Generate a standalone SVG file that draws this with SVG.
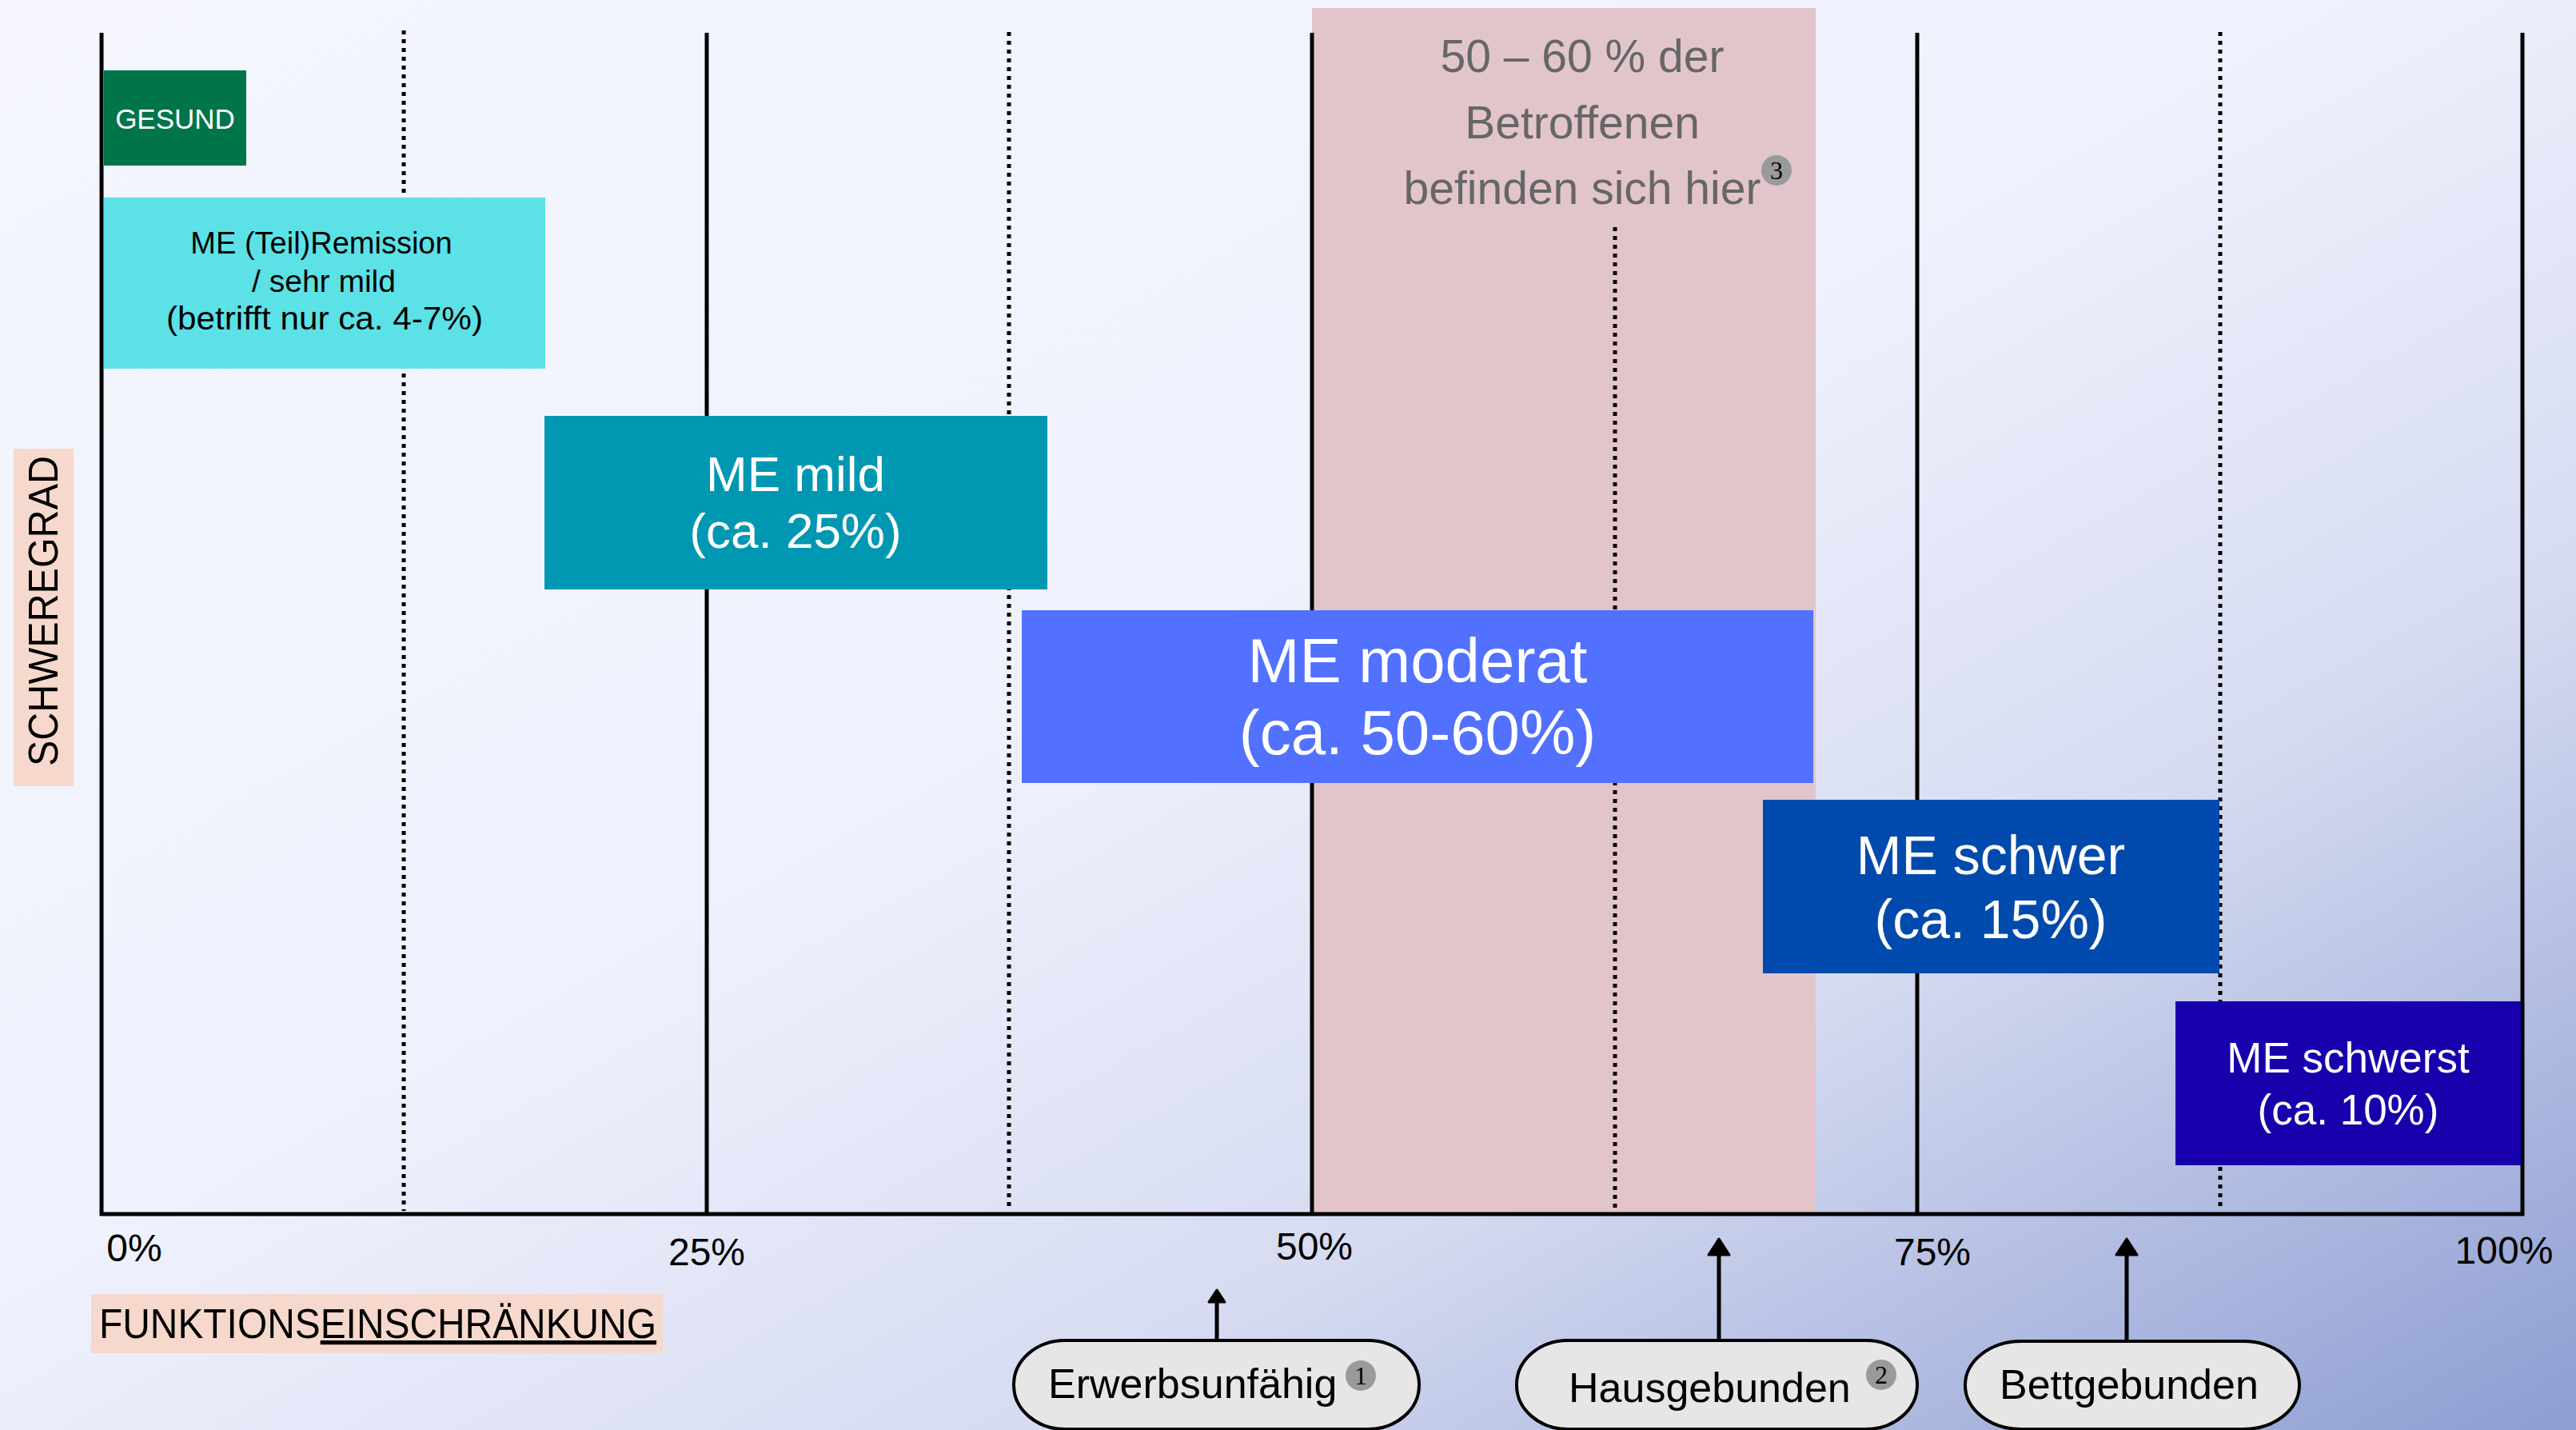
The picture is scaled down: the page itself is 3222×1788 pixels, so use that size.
<svg xmlns="http://www.w3.org/2000/svg" width="3222" height="1788" viewBox="0 0 3222 1788">
<defs>
<linearGradient id="bg" x1="0" y1="0" x2="1" y2="1">
<stop offset="0" stop-color="#f5f6fe"/>
<stop offset="0.45" stop-color="#eff2fd"/>
<stop offset="0.7" stop-color="#d6dbf1"/>
<stop offset="1" stop-color="#8d9dd2"/>
</linearGradient>
<marker id="headL" markerUnits="userSpaceOnUse" markerWidth="40" markerHeight="40" refX="0" refY="0" orient="auto" overflow="visible">
<path d="M0,-13 L20,0 L0,13 Z" fill="#000" stroke="#000" stroke-width="3" stroke-linejoin="round"/>
</marker>
<marker id="headS" markerUnits="userSpaceOnUse" markerWidth="40" markerHeight="40" refX="0" refY="0" orient="auto" overflow="visible">
<path d="M0,-10 L15,0 L0,10 Z" fill="#000" stroke="#000" stroke-width="3" stroke-linejoin="round"/>
</marker>
</defs>
<style>
text{font-family:"Liberation Sans",Arial,sans-serif}
.solid{stroke:#000;stroke-width:5;fill:none}
.dot{stroke:#000;stroke-width:5;stroke-dasharray:5 6;fill:none}
.w{fill:#fff;text-anchor:middle}
.k{fill:#000}
.pct{font-size:48px;fill:#000;text-anchor:middle}
.pill{fill:#e6e6e6;stroke:#000;stroke-width:4}
.pt{font-size:52px;fill:#000}
.badge{fill:#9a9a9a}
.bn{font-family:"Liberation Serif","DejaVu Serif",serif;font-size:32px;fill:#000;text-anchor:middle}
.arr{stroke:#000;stroke-width:5;fill:none}
.lab{fill:#f6d9cc}
.grey{font-size:57px;fill:#666;text-anchor:middle}
</style>
<rect width="3222" height="1788" fill="url(#bg)"/>
<rect id="highlight" x="1641" y="10" width="630" height="1506" fill="#e2c5cb"/>
<g id="grid">
<line class="dot" x1="505" y1="38" x2="505" y2="1514"/>
<line class="dot" x1="1262" y1="40" x2="1262" y2="1514"/>
<line class="dot" x1="2020" y1="284" x2="2020" y2="1514"/>
<line class="dot" x1="2777" y1="40" x2="2777" y2="1514"/>
<line class="solid" x1="884" y1="41" x2="884" y2="1518"/>
<line class="solid" x1="1641" y1="41" x2="1641" y2="1518"/>
<line class="solid" x1="2398" y1="41" x2="2398" y2="1518"/>
<line class="solid" x1="3155" y1="41" x2="3155" y2="1520"/>
<line class="solid" x1="127" y1="41" x2="127" y2="1520"/>
<line class="solid" x1="125" y1="1518" x2="3157" y2="1518"/>
</g>
<g id="pct-labels">
<text class="pct" x="168" y="1577">0%</text>
<text class="pct" x="884" y="1582">25%</text>
<text class="pct" x="1644" y="1575">50%</text>
<text class="pct" x="2417" y="1582">75%</text>
<text class="pct" x="3132" y="1580">100%</text>
</g>
<g id="highlight-text">
<text class="grey" x="1979" y="90">50 – 60 % der</text>
<text class="grey" x="1979" y="173">Betroffenen</text>
<text class="grey" x="1979" y="255">befinden sich hier</text>
<circle class="badge" cx="2222" cy="213" r="19"/>
<text class="bn" x="2222" y="224">3</text>
</g>
<g id="gesund">
<rect x="130" y="88" width="178" height="119" fill="#00754a"/>
<text class="w" x="219" y="161" font-size="35">GESUND</text>
</g>
<g id="remission">
<rect x="130" y="247" width="552" height="214" fill="#5ce1e6"/>
<text class="k" x="402" y="317" font-size="38" text-anchor="middle">ME (Teil)Remission</text>
<text class="k" x="405" y="365" font-size="39" text-anchor="middle">/ sehr mild</text>
<text class="k" x="406" y="412" font-size="40" text-anchor="middle" textLength="396" lengthAdjust="spacingAndGlyphs">(betrifft nur ca. 4-7%)</text>
</g>
<g id="mild">
<rect x="681" y="520" width="629" height="217" fill="#0097b2"/>
<text class="w" x="995" y="614" font-size="62">ME mild</text>
<text class="w" x="995" y="685" font-size="62">(ca. 25%)</text>
</g>
<g id="moderat">
<rect x="1278" y="763" width="990" height="216" fill="#5271ff"/>
<text class="w" x="1773" y="853" font-size="78">ME moderat</text>
<text class="w" x="1773" y="943" font-size="78">(ca. 50-60%)</text>
</g>
<g id="schwer">
<rect x="2205" y="1000" width="571" height="217" fill="#004aad"/>
<text class="w" x="2490" y="1093" font-size="68">ME schwer</text>
<text class="w" x="2490" y="1173" font-size="68">(ca. 15%)</text>
</g>
<g id="schwerst">
<rect x="2721" y="1252" width="432" height="205" fill="#1800ad"/>
<text class="w" x="2937" y="1341" font-size="53">ME schwerst</text>
<text class="w" x="2937" y="1406" font-size="53">(ca. 10%)</text>
</g>
<g id="y-label">
<rect class="lab" x="17" y="561" width="75" height="422"/>
<text transform="translate(72,958) rotate(-90)" font-size="52" textLength="388" lengthAdjust="spacingAndGlyphs" fill="#000">SCHWEREGRAD</text>
</g>
<g id="x-label">
<rect class="lab" x="114" y="1618" width="715" height="74"/>
<text x="124" y="1673" font-size="52" textLength="697" lengthAdjust="spacingAndGlyphs" fill="#000">FUNKTIONS<tspan text-decoration="underline">EINSCHRÄNKUNG</tspan></text>
</g>
<g id="connectors">
<line class="arr" x1="1522" y1="1676" x2="1522" y2="1628" marker-end="url(#headS)"/>
<line class="arr" x1="2150" y1="1676" x2="2150" y2="1569" marker-end="url(#headL)"/>
<line class="arr" x1="2660" y1="1677" x2="2660" y2="1569" marker-end="url(#headL)"/>
</g>
<g id="erwerbsunfaehig">
<rect class="pill" x="1268" y="1676" width="507" height="111" rx="64" ry="55"/>
<text class="pt" x="1311" y="1748">Erwerbsunfähig</text>
<circle class="badge" cx="1702" cy="1720" r="19"/>
<text class="bn" x="1702" y="1731">1</text>
</g>
<g id="hausgebunden">
<rect class="pill" x="1897" y="1676" width="501" height="111" rx="64" ry="55"/>
<text class="pt" x="1962" y="1753">Hausgebunden</text>
<circle class="badge" cx="2353" cy="1719" r="19"/>
<text class="bn" x="2353" y="1730">2</text>
</g>
<g id="bettgebunden">
<rect class="pill" x="2458" y="1677" width="418" height="110" rx="70" ry="55"/>
<text class="pt" x="2501" y="1749">Bettgebunden</text>
</g>
</svg>
